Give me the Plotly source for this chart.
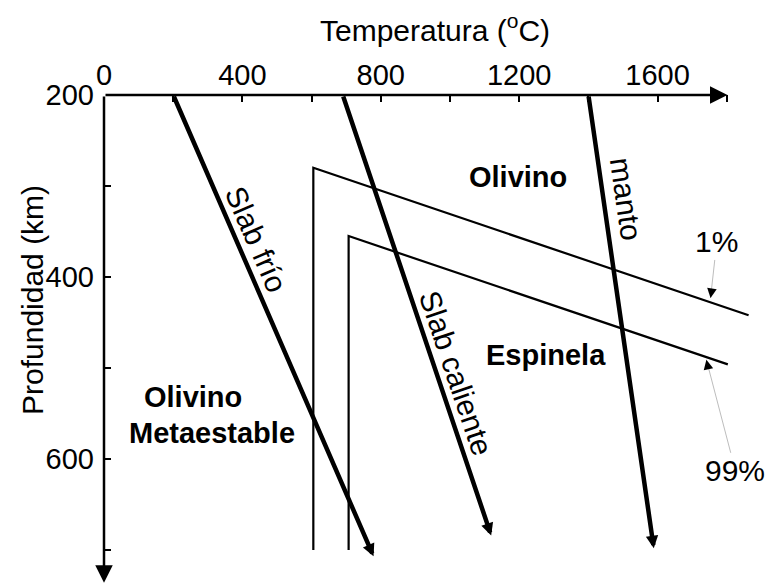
import plotly.graph_objects as go

# ---- data ----
x_tick_vals = [0, 400, 800, 1200, 1600]
y_tick_vals = [200, 400, 600]

slab_frio_x = [200, 779]
slab_frio_y = [200, 707]
slab_cal_x = [690, 1119]
slab_cal_y = [200, 684]
manto_x = [1400, 1589]
manto_y = [200, 698]

bound1_x = [605, 605, 1863]
bound1_y = [700, 280, 442]
bound99_x = [707, 707, 1803]
bound99_y = [700, 355, 496]

axis_x_end = 1802
axis_y_end = 736

lbl1_tip = (1753, 423)
lbl99_tip = (1741, 491)

# ---- layout geometry ----
W, H = 768, 584
L, T, R, B = 104, 95, 6, 0
PX_PER_C = 0.346
PX_PER_KM = 0.91
xmax = (W - L - R) / PX_PER_C
ymax = 200 + (H - T - B) / PX_PER_KM

FONT = "Liberation Sans"
FS_TICK = 29
FS_TXT = 30
FS_BOLD = 29

fig = go.Figure()

# phase boundaries
for bx, by in [(bound1_x, bound1_y), (bound99_x, bound99_y)]:
    fig.add_trace(go.Scatter(x=bx, y=by, mode="lines",
                             line=dict(color="black", width=2.2),
                             hoverinfo="skip", showlegend=False))

# axis lines with arrows
fig.add_annotation(x=axis_x_end, y=200, ax=0, ay=200, xref="x", yref="y",
                   axref="x", ayref="y", text="", showarrow=True,
                   arrowhead=2, arrowwidth=2.5, arrowsize=1.4, arrowcolor="black")
fig.add_annotation(x=0, y=axis_y_end, ax=0, ay=200, xref="x", yref="y",
                   axref="x", ayref="y", text="", showarrow=True,
                   arrowhead=2, arrowwidth=2.5, arrowsize=1.4, arrowcolor="black")

# thick geotherm arrows
for lx, ly in [(slab_frio_x, slab_frio_y), (slab_cal_x, slab_cal_y), (manto_x, manto_y)]:
    fig.add_annotation(x=lx[1], y=ly[1], ax=lx[0], ay=ly[0], xref="x", yref="y",
                       axref="x", ayref="y", text="", showarrow=True,
                       arrowhead=2, arrowwidth=4.5, arrowsize=0.55, arrowcolor="black")

# leader lines for percentages
fig.add_annotation(x=lbl1_tip[0], y=lbl1_tip[1], ax=1771, ay=361.5, xref="x", yref="y",
                   axref="x", ayref="y", text="1%", showarrow=True, arrowhead=0,
                   arrowwidth=1, arrowcolor="#bdbdbd",
                   font=dict(family=FONT, size=FS_TXT, color="black"))
fig.add_annotation(x=lbl1_tip[0], y=lbl1_tip[1], ax=lbl1_tip[0] + 3.4, ay=lbl1_tip[1] - 8.7,
                   xref="x", yref="y", axref="x", ayref="y", text="", showarrow=True,
                   arrowhead=2, arrowwidth=1.2, arrowsize=1.6, arrowcolor="black")
fig.add_annotation(x=lbl99_tip[0], y=lbl99_tip[1], ax=1825, ay=613, xref="x", yref="y",
                   axref="x", ayref="y", text="99%", showarrow=True, arrowhead=0,
                   arrowwidth=1, arrowcolor="#bdbdbd",
                   font=dict(family=FONT, size=FS_TXT, color="black"))
fig.add_annotation(x=lbl99_tip[0], y=lbl99_tip[1], ax=lbl99_tip[0] + 5, ay=lbl99_tip[1] + 8.6,
                   xref="x", yref="y", axref="x", ayref="y", text="", showarrow=True,
                   arrowhead=2, arrowwidth=1.2, arrowsize=1.6, arrowcolor="black")

# region labels
def lab(x, y, t, bold=False, angle=0):
    fig.add_annotation(x=x, y=y, xref="x", yref="y", text=t, showarrow=False,
                       textangle=angle, xanchor="center", yanchor="middle",
                       font=dict(family=FONT, size=FS_BOLD if bold else FS_TXT,
                                 color="black",
                                 weight="bold" if bold else "normal"))

lab(1196, 290, "Olivino", bold=True)
lab(1278, 486, "Espinela", bold=True)
lab(257, 531.5, "Olivino", bold=True)
lab(311, 571.4, "Metaestable", bold=True)
lab(440, 359, "Slab frío", angle=66.5)
lab(1018, 506, "Slab caliente", angle=71.3)
lab(1509, 313.5, "manto", angle=81.8)

# axis titles
pw, ph = W - L - R, H - T - B
fig.add_annotation(x=(435 - L) / pw, y=1 + (T - 28) / ph, xref="paper", yref="paper",
                   xanchor="center", yanchor="middle",
                   text="Temperatura (<sup>o</sup>C)", showarrow=False,
                   font=dict(family=FONT, size=FS_TXT, color="black"))
fig.add_annotation(x=(32 - L) / pw, y=1 - (300 - T) / ph, xref="paper", yref="paper",
                   xanchor="center", yanchor="middle",
                   text="Profundidad (km)", showarrow=False, textangle=-90,
                   font=dict(family=FONT, size=FS_TXT, color="black"))

fig.update_layout(
    width=W, height=H,
    margin=dict(l=L, r=R, t=T, b=B, autoexpand=False),
    paper_bgcolor="white", plot_bgcolor="white",
    showlegend=False,
    xaxis=dict(range=[0, xmax], side="top", showgrid=False, zeroline=False,
               showline=False, tickmode="array", tickvals=x_tick_vals,
               ticktext=[str(v) for v in x_tick_vals],
               ticks="inside", ticklen=7, tickwidth=2, tickcolor="black",
               ticklabelstandoff=3,
               minor=dict(dtick=200, tick0=0, ticks="inside", ticklen=7,
                          tickwidth=2, tickcolor="black", showgrid=False),
               tickfont=dict(family=FONT, size=FS_TICK, color="black"),
               fixedrange=True),
    yaxis=dict(range=[ymax, 200], showgrid=False, zeroline=False, showline=False,
               tickmode="array", tickvals=y_tick_vals,
               ticktext=[str(v) for v in y_tick_vals],
               ticks="inside", ticklen=7, tickwidth=2, tickcolor="black",
               ticklabelstandoff=9,
               minor=dict(dtick=100, tick0=0, ticks="inside", ticklen=7,
                          tickwidth=2, tickcolor="black", showgrid=False),
               tickfont=dict(family=FONT, size=FS_TICK, color="black"),
               fixedrange=True),
)

fig.write_html("out.html")
